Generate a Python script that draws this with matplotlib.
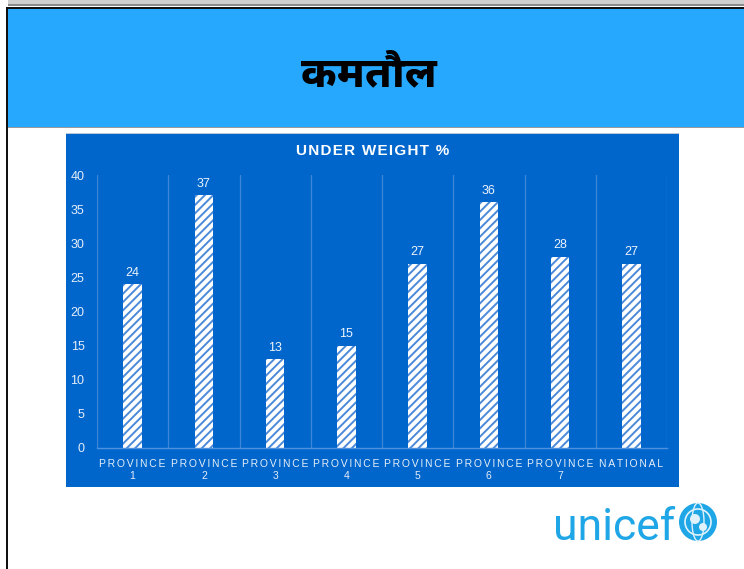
import numpy as np
import matplotlib.pyplot as plt
from matplotlib import font_manager as fm
from matplotlib.ft2font import FT2Font
from matplotlib.patches import Rectangle, Circle, Arc

# chart data
categories = ["PROVINCE\n1", "PROVINCE\n2", "PROVINCE\n3", "PROVINCE\n4",
              "PROVINCE\n5", "PROVINCE\n6", "PROVINCE\n7", "NATIONAL"]
underweight = [24, 37, 13, 15, 27, 36, 28, 27]
y_ticks = [0, 5, 10, 15, 20, 25, 30, 35, 40]

slide_title = "कमतौल"
chart_title = "UNDER WEIGHT %"

W, H = 744, 569


def pick_family(preferred, ch):
    """first preferred family that is installed, else any family with a glyph for ch"""
    names = {f.name for f in fm.fontManager.ttflist}
    for name in preferred:
        if name in names:
            return name
    for f in fm.fontManager.ttflist:
        try:
            if ord(ch) in FT2Font(f.fname).get_charmap():
                return f.name
        except Exception:
            pass
    return "DejaVu Sans"


def spaced(text, gap="\u200a"):
    # widen the letters a little, line by line
    return "\n".join(gap.join(line) for line in text.split("\n"))


deva = pick_family(["Noto Sans Devanagari UI", "Yantramanav", "Noto Sans Devanagari"], "क")
title_family = [deva, "DejaVu Sans"]
sans = ["Liberation Sans", "DejaVu Sans"]

fig = plt.figure(figsize=(W / 100, H / 100), dpi=100)
fig.patch.set_facecolor("white")

# slide background drawn in pixel units
bg = fig.add_axes([0, 0, 1, 1])
bg.set_xlim(0, W)
bg.set_ylim(H, 0)
bg.axis("off")

bg.add_patch(Rectangle((8, 0), W - 8, 5, color="#cfcfcf", lw=0))
bg.add_patch(Rectangle((8, 4), W - 8, 2, color="#8a8a8a", lw=0))
bg.add_patch(Rectangle((6, 7), W - 6, 2, color="#111111", lw=0))
bg.add_patch(Rectangle((6, 7), 2, H - 7, color="#111111", lw=0))
bg.add_patch(Rectangle((8, 9), W - 8, 118, color="#27a8ff", lw=0))
bg.add_patch(Rectangle((8, 127), W - 8, 1, color="#9a9a9a", lw=0))

bg.text(369, 74, slide_title, family=title_family, fontsize=30.5,
        fontweight=800, color="black", ha="center", va="center")

# chart panel
bg.add_patch(Rectangle((66, 133), 613, 354, color="#0066cc", lw=0))
bg.add_patch(Rectangle((66, 133), 613, 1, color="#b8c8dc", lw=0))
bg.text(372.5, 151, spaced(chart_title), family=sans, fontsize=11,
        fontweight="bold", color="white", ha="center", va="center")

# unicef logo
bg.text(553, 540, "unicef", family=["Roboto", "DejaVu Sans"], fontsize=32,
        color="#1ea6e6", ha="left", va="baseline")
bg.add_patch(Circle((698, 522), 19, color="#1ea6e6", lw=0))
bg.add_patch(Circle((698, 522), 13, fill=False, ec="#dff2fc", lw=1.2))
bg.add_patch(Arc((698, 522), 12, 38, color="#dff2fc", lw=1.0))
bg.add_patch(Circle((695, 519), 5, color="#dff2fc", lw=0))
bg.add_patch(Circle((703, 527), 4, color="#dff2fc", lw=0))

# bar chart axes
left, right, bottom, top = 97, 667, 448, 175
ax = fig.add_axes([left / W, 1 - bottom / H, (right - left) / W, (bottom - top) / H])
ax.set_facecolor("none")

plt.rcParams["hatch.linewidth"] = 1.4
x = np.arange(len(categories))
bars = ax.bar(x, underweight, width=0.26, color="white", edgecolor="#4a8ad8",
              linewidth=0, hatch="////")

for xi, v in zip(x, underweight):
    ax.annotate(str(v), (xi, v), xytext=(0, 4), textcoords="offset points",
                ha="center", va="bottom", color="#eef4fb", fontsize=9,
                family=sans)

ax.set_xlim(-0.5, len(categories) - 0.5)
ax.set_ylim(0, 40)
ax.set_yticks(y_ticks)
ax.set_xticks(x)
ax.set_xticklabels([spaced(c, "\u200a\u200a") for c in categories], family=sans,
                   fontsize=7.5, color="#e6eef8", linespacing=1.2)
ax.tick_params(axis="both", length=0, colors="#e6eef8")
ax.tick_params(axis="x", pad=8)
ax.tick_params(axis="y", pad=9, labelsize=9)
for lbl in ax.get_yticklabels():
    lbl.set_family(sans)

# category separators
for xs in np.arange(len(categories) + 1) - 0.5:
    ax.axvline(xs, color="#3f86d8", lw=0.9, zorder=0)

for side in ["top", "right", "left"]:
    ax.spines[side].set_visible(False)
ax.spines["bottom"].set_color("#4d92df")
ax.spines["bottom"].set_linewidth(1.0)

fig.savefig("out.png", dpi=100)
